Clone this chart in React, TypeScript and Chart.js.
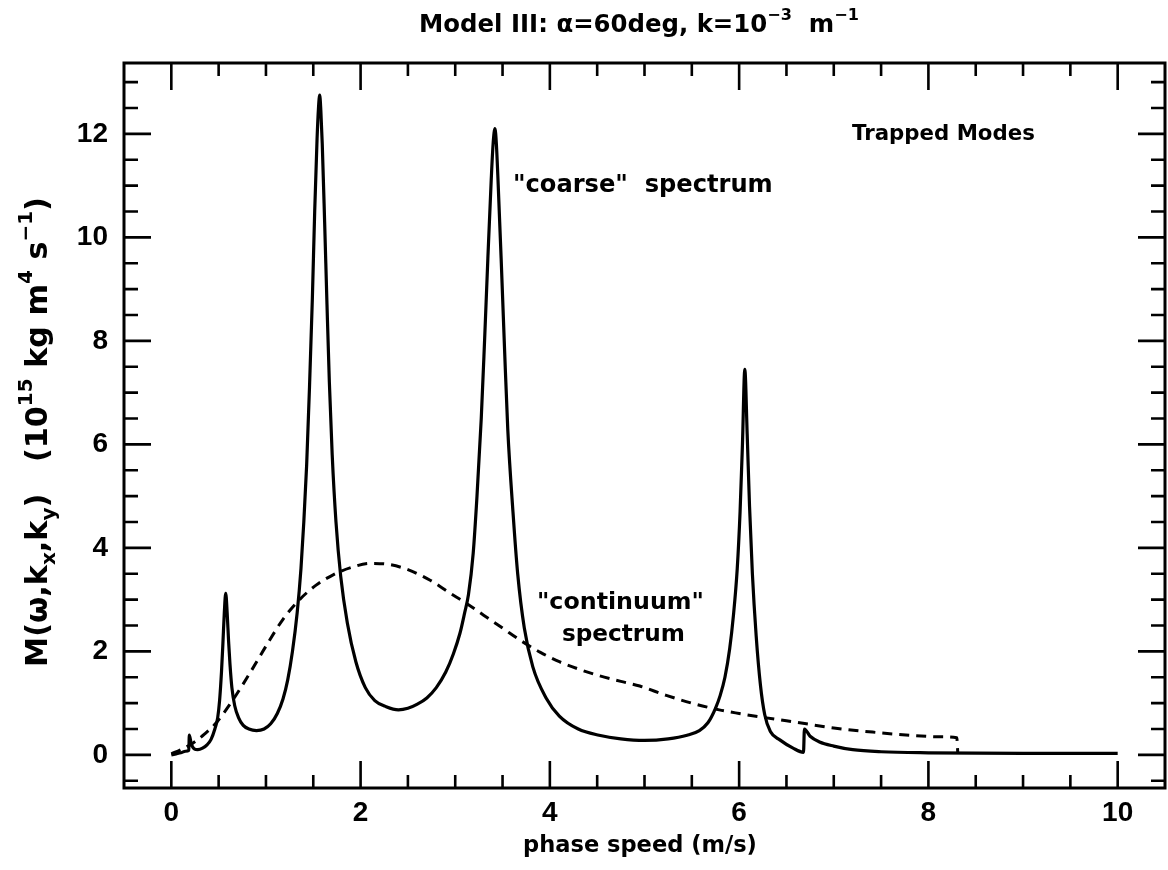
import React, { useEffect, useRef } from "react";
import { Chart, registerables } from "chart.js";

Chart.register(...registerables);

// ---- Data ("coarse" spectrum, solid) ----
const coarseX = [
  0.0, 0.05, 0.1, 0.15, 0.185, 0.19, 0.21, 0.24, 0.28, 0.33, 0.38, 0.42, 0.46, 0.49, 0.51, 0.53,
  0.545, 0.56, 0.575, 0.59, 0.605, 0.62, 0.64, 0.67, 0.71, 0.76, 0.82, 0.9, 0.98, 1.05, 1.12,
  1.18, 1.23, 1.28, 1.33, 1.37, 1.4, 1.43, 1.46, 1.49, 1.515, 1.54, 1.555, 1.568, 1.58,
  1.595, 1.62, 1.645, 1.67, 1.7, 1.74, 1.79, 1.86, 1.95, 2.05, 2.15, 2.27, 2.4, 2.5, 2.6,
  2.7, 2.8, 2.9, 2.98, 3.05, 3.1, 3.14, 3.19, 3.23, 3.275, 3.31, 3.345, 3.38, 3.4, 3.42,
  3.435, 3.45, 3.485, 3.52, 3.555, 3.61, 3.66, 3.73, 3.82, 3.96, 4.1, 4.3, 4.52, 4.75, 5.0,
  5.25, 5.45, 5.58, 5.67, 5.75, 5.8, 5.85, 5.9, 5.94, 5.98, 6.01, 6.035, 6.06, 6.085, 6.11, 6.14,
  6.18, 6.225, 6.27, 6.33, 6.43, 6.57, 6.68, 6.69, 6.75, 6.85, 7.0, 7.2, 7.5, 8.0, 9.0, 10.0,
];
const coarseY = [
  0.0, 0.02, 0.04, 0.07, 0.09, 0.38, 0.22, 0.12, 0.1, 0.13, 0.2, 0.3, 0.5, 0.72, 1.05, 1.6,
  2.15, 2.75, 3.12, 2.75, 2.2, 1.75, 1.3, 0.95, 0.72, 0.57, 0.5, 0.47, 0.5, 0.6, 0.8,
  1.08, 1.45, 2.0, 2.75, 3.6, 4.5, 5.6, 7.1, 8.8, 10.5, 11.9, 12.5, 12.75, 12.45,
  11.8, 10.3, 8.7, 7.2, 5.8, 4.5, 3.45, 2.55, 1.8, 1.3, 1.05, 0.93, 0.87, 0.9, 0.98,
  1.1, 1.3, 1.6, 1.95, 2.35, 2.75, 3.1, 3.9, 5.0, 6.5, 8.0, 9.6, 11.1, 11.8, 12.1,
  11.8, 11.2, 9.6, 7.9, 6.3, 4.7, 3.5, 2.45, 1.7, 1.1, 0.75, 0.5, 0.38, 0.31, 0.28,
  0.31, 0.38, 0.47, 0.62, 0.9, 1.15, 1.5, 2.05, 2.7, 3.6, 4.7, 6.0, 7.45, 6.2, 4.8, 3.5,
  2.3, 1.35, 0.78, 0.45, 0.29, 0.13, 0.05, 0.5, 0.36, 0.25, 0.17, 0.1, 0.06, 0.04, 0.03, 0.03,
];

// ---- Data ("continuum" spectrum, dashed) ----
const continuumX = [
  0.0, 0.1, 0.23, 0.35, 0.475, 0.65, 0.83, 1.0, 1.18, 1.355, 1.53, 1.71, 1.9, 2.1, 2.3, 2.5,
  2.73, 2.95, 3.1, 3.3, 3.5, 3.7, 3.9, 4.1, 4.3, 4.52, 4.75, 4.95, 5.23, 5.5, 5.79, 6.0, 6.27,
  6.5, 6.71, 7.0, 7.41, 7.8, 8.12, 8.3, 8.31,
];
const continuumY = [
  0.02, 0.1, 0.23, 0.4, 0.62, 1.06, 1.58, 2.1, 2.62, 3.0, 3.28, 3.48, 3.62, 3.7, 3.68, 3.58,
  3.38, 3.12, 2.95, 2.7, 2.45, 2.2, 1.98, 1.8, 1.66, 1.53, 1.42, 1.33, 1.15, 1.0, 0.87, 0.8, 0.72,
  0.66, 0.6, 0.52, 0.44, 0.38, 0.35, 0.33, 0.05,
];

// ---- Axes ----
const xMin = -0.5;
const xMax = 10.5;
const yMin = -0.64;
const yMax = 13.37;
const xMajorTicks = [0, 2, 4, 6, 8, 10];
const xMinorTicks = [0.5, 1, 1.5, 2.5, 3, 3.5, 4.5, 5, 5.5, 6.5, 7, 7.5, 8.5, 9, 9.5];
const yMajorTicks = [0, 2, 4, 6, 8, 10, 12];
const yMinorTicks = [-0.5, 0.5, 1, 1.5, 2.5, 3, 3.5, 4.5, 5, 5.5, 6.5, 7, 7.5, 8.5, 9, 9.5, 10.5, 11, 11.5, 12.5, 13];

// ---- Texts ----
type Seg = { t: string; s?: "sup" | "sub" };
const titleSegs: Seg[] = [
  { t: "Model III: α=60deg, k=10" },
  { t: "−3", s: "sup" },
  { t: "  m" },
  { t: "−1", s: "sup" },
];
const yTitleSegs: Seg[] = [
  { t: "M(ω,k" },
  { t: "x", s: "sub" },
  { t: ",k" },
  { t: "y", s: "sub" },
  { t: ")   (10" },
  { t: "15", s: "sup" },
  { t: " kg m" },
  { t: "4", s: "sup" },
  { t: " s" },
  { t: "−1", s: "sup" },
  { t: ")" },
];
const xTitle = "phase speed (m/s)";
const trappedLabel = "Trapped Modes";
const coarseLabel = "\"coarse\"  spectrum";
const continuumLabel1 = "\"continuum\"";
const continuumLabel2 = "spectrum";

const TICK_FONT = '"Liberation Sans", Arial, sans-serif';
const TEXT_FONT = '"DejaVu Sans", "Liberation Sans", sans-serif';

function drawRich(
  ctx: CanvasRenderingContext2D,
  segs: Seg[],
  x: number,
  y: number,
  size0: number,
  align: "left" | "center",
  target?: number
) {
  const measure = (size: number) => {
    const base = `bold ${size}px ${TEXT_FONT}`;
    const small = `bold ${size * 0.66}px ${TEXT_FONT}`;
    let total = 0;
    const widths = segs.map((sg) => {
      ctx.font = sg.s ? small : base;
      const w = ctx.measureText(sg.t).width;
      total += w;
      return w;
    });
    return { base, small, total, widths };
  };
  let size = size0;
  let m = measure(size);
  if (target) {
    size = (size * target) / m.total;
    m = measure(size);
  }
  let cx = align === "center" ? x - m.total / 2 : x;
  ctx.textAlign = "left";
  ctx.textBaseline = "alphabetic";
  segs.forEach((sg, i) => {
    ctx.font = sg.s ? m.small : m.base;
    const dy = sg.s === "sup" ? -size * 0.48 : sg.s === "sub" ? size * 0.25 : 0;
    ctx.fillText(sg.t, cx, y + dy);
    cx += m.widths[i];
  });
}

const framePlugin = {
  id: "framePlugin",
  afterDraw(chart: any) {
    const { ctx, chartArea } = chart;
    const xs = chart.scales.x;
    const ys = chart.scales.y;
    const { left, right, top, bottom } = chartArea;
    ctx.save();
    ctx.strokeStyle = "#000";
    ctx.lineWidth = 3;
    ctx.lineCap = "butt";
    ctx.strokeRect(left, top, right - left, bottom - top);
    ctx.lineWidth = 2.6;
    const xTick = (v: number, len: number) => {
      const p = xs.getPixelForValue(v);
      ctx.beginPath();
      ctx.moveTo(p, bottom);
      ctx.lineTo(p, bottom - len);
      ctx.moveTo(p, top);
      ctx.lineTo(p, top + len);
      ctx.stroke();
    };
    const yTick = (v: number, len: number) => {
      const p = ys.getPixelForValue(v);
      ctx.beginPath();
      ctx.moveTo(left, p);
      ctx.lineTo(left + len, p);
      ctx.moveTo(right, p);
      ctx.lineTo(right - len, p);
      ctx.stroke();
    };
    xMajorTicks.forEach((v) => xTick(v, 27));
    xMinorTicks.forEach((v) => xTick(v, 13));
    yMajorTicks.forEach((v) => yTick(v, 27));
    yMinorTicks.forEach((v) => yTick(v, 14));

    ctx.fillStyle = "#000";
    drawRich(ctx, titleSegs, 639, 32, 22, "center", 440);
    drawRich(ctx, [{ t: xTitle }], 640, 852, 22, "center", 234);
    ctx.save();
    ctx.translate(47, 432);
    ctx.rotate(-Math.PI / 2);
    drawRich(ctx, yTitleSegs, 0, 0, 24, "center", 470);
    ctx.restore();
    drawRich(ctx, [{ t: trappedLabel }], 852, 140, 22, "left", 183);
    drawRich(ctx, [{ t: coarseLabel }], 513, 192, 22, "left", 260);
    drawRich(ctx, [{ t: continuumLabel1 }], 537, 609, 22, "left", 167);
    drawRich(ctx, [{ t: continuumLabel2 }], 562, 641, 22, "left", 123);
    ctx.restore();
  },
};

export default function App() {
  const ref = useRef<HTMLCanvasElement | null>(null);
  useEffect(() => {
    if (!ref.current) return;
    const coarseData = coarseX.map((x, i) => ({ x, y: coarseY[i] }));
    const contData = continuumX.map((x, i) => ({ x, y: continuumY[i] }));
    const chart = new Chart(ref.current, {
      type: "scatter",
      data: {
        datasets: [
          {
            label: "coarse",
            data: coarseData,
            showLine: true,
            borderColor: "#000",
            borderWidth: 3.2,
            pointRadius: 0,
            cubicInterpolationMode: "monotone",
          },
          {
            label: "continuum",
            data: contData,
            showLine: true,
            borderColor: "#000",
            borderWidth: 3,
            borderDash: [10, 7],
            pointRadius: 0,
            cubicInterpolationMode: "monotone",
          },
        ],
      },
      options: {
        animation: false,
        responsive: true,
        maintainAspectRatio: false,
        layout: { padding: { top: 63, right: 3, left: 0, bottom: 0 } },
        plugins: { legend: { display: false }, tooltip: { enabled: false }, title: { display: false } },
        scales: {
          x: {
            type: "linear",
            min: xMin,
            max: xMax,
            grid: { display: false, drawTicks: false },
            border: { display: false },
            afterBuildTicks: (s: any) => {
              s.ticks = xMajorTicks.map((v) => ({ value: v }));
            },
            afterFit: (s: any) => {
              s.height = 82;
            },
            ticks: {
              color: "#000",
              padding: 8,
              maxRotation: 0,
              font: { family: TICK_FONT, size: 28, weight: "bold" },
              callback: (v: any) => String(v),
            },
          },
          y: {
            type: "linear",
            min: yMin,
            max: yMax,
            grid: { display: false, drawTicks: false },
            border: { display: false },
            afterBuildTicks: (s: any) => {
              s.ticks = yMajorTicks.map((v) => ({ value: v }));
            },
            afterFit: (s: any) => {
              s.width = 124;
            },
            ticks: {
              color: "#000",
              padding: 16,
              font: { family: TICK_FONT, size: 28, weight: "bold" },
              callback: (v: any) => String(v),
            },
          },
        },
      },
      plugins: [framePlugin],
    });
    return () => chart.destroy();
  }, []);
  return (
    <div style={{ position: "absolute", left: 0, top: 0, width: 1168, height: 870, background: "#fff" }}>
      <canvas ref={ref} />
    </div>
  );
}
